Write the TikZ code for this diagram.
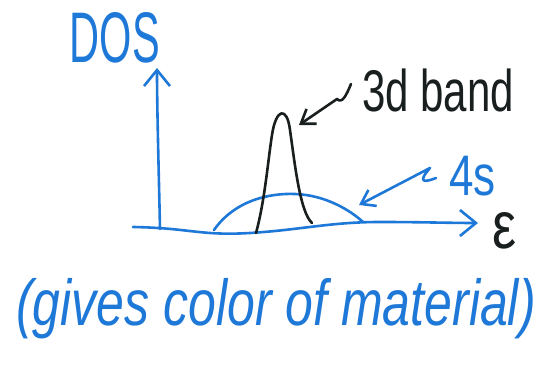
\documentclass[tikz,border=0pt]{standalone}
\usepackage{fontspec}
\usepackage{graphicx}
\setmainfont{Liberation Sans}
\usetikzlibrary{arrows.meta}
\definecolor{blueink}{RGB}{30,120,215}
\definecolor{blackink}{RGB}{25,30,30}
\tikzset{
  ink/.style={line width=2.6pt, line cap=round, line join=round},
  bluepen/.style={ink, draw=blueink},
  blackpen/.style={ink, draw=blackink},
  bigtip/.style={-{Straight Barb[length=16pt,width=26pt]}},
  smalltip/.style={-{Straight Barb[length=13pt,width=18pt]}},
  label/.style={inner sep=0pt, outer sep=0pt}
}
\begin{document}
\begin{tikzpicture}[x=1pt, y=-1pt]
\useasboundingbox (0,0) rectangle (542,371);
% labels
\node[label, text=blueink] (dos) at (115,38) {\resizebox{90pt}{50pt}{DOS}};
\node[label, text=blackink, anchor=base west] (band) at (362,112) {\scalebox{1}[1.4]{\fontsize{42}{48}\selectfont 3d band}};
\node[label, text=blueink, anchor=base west] (four) at (449,196) {\scalebox{1}[1.3]{\fontsize{44}{50}\selectfont 4s}};
\node[label, text=blackink] (eps) at (505,231) {\resizebox{24pt}{36pt}{ε}};
\node[label, text=blueink, anchor=base] (note) at (276,326) {\scalebox{1}[1.3]{\fontsize{50}{60}\selectfont\itshape (gives color of material)}};
% axes
\coordinate (origin) at (160,229);
\coordinate (ytop) at (157,68);
\coordinate (xstart) at (133,227);
\coordinate (xend) at (478,223);
\draw[bluepen, bigtip] (origin) .. controls (159,180) and (157,110) .. (ytop);
\draw[bluepen, bigtip] (xstart) .. controls (190,228) and (200,236) .. (250,233)
  .. controls (300,230) and (330,222) .. (380,222)
  .. controls (420,222) and (450,223) .. (xend);
% 4s band (dome)
\draw[bluepen] (214,230) .. controls (235,200) and (270,193) .. (295,194)
  .. controls (325,195) and (350,210) .. (363,222);
% 3d band (peak)
\draw[blackpen] (256,233) .. controls (265,200) and (268,160) .. (272,135)
  .. controls (276,108) and (287,106) .. (290,130)
  .. controls (295,165) and (300,212) .. (312,223);
% pointers
\coordinate (peak) at (299,125);
\coordinate (w3) at (351,84);
\draw[blackpen, smalltip] (w3) .. controls (346,96) and (342,104) .. (337,99) -- (peak);
\coordinate (domept) at (359,205);
\coordinate (w4) at (436,178);
\draw[bluepen, smalltip] (w4) .. controls (426,182) and (416,184) .. (430,168) -- (domept);
\end{tikzpicture}
\end{document}
